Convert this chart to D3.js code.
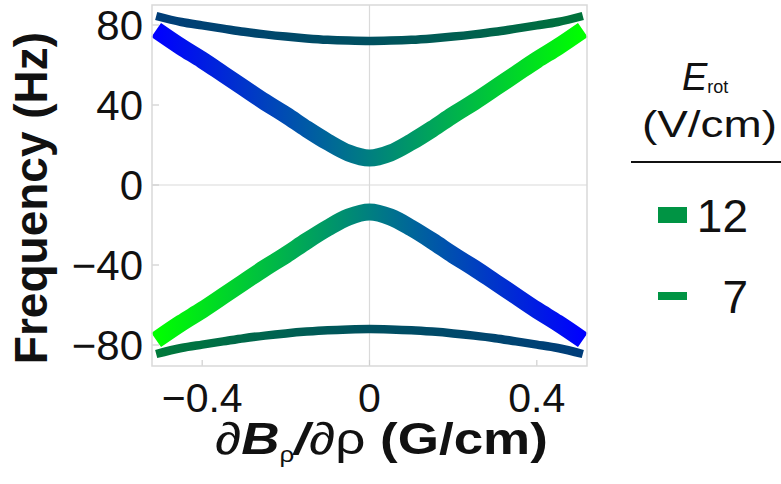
<!DOCTYPE html>
<html>
<head>
    <title>Frequency vs field gradient</title>
    <script src="https://cdnjs.cloudflare.com/ajax/libs/d3/7.8.5/d3.min.js"></script>
    <style>
        body { margin: 0; background: #fff; }
        text { font-family: "Liberation Sans", Arial, sans-serif; fill: #111; }
    </style>
</head>
<body>
    <div id="chart"></div>
    <script>
        // gradient values (G/cm) where the curves were read
        const gradX = [-0.51, -0.45, -0.4, -0.35, -0.3, -0.25, -0.2, -0.15, -0.1, -0.05, 0,
                       0.05, 0.1, 0.15, 0.2, 0.25, 0.3, 0.35, 0.4, 0.45, 0.51];
        // E_rot = 12 V/cm, upper and lower branch (Hz)
        const upper12 = [77.5, 69, 62.5, 55.5, 48.5, 41.5, 35, 28, 21.5, 16, 13.5,
                         16, 21.5, 28, 35, 41.5, 48.5, 55.5, 62.5, 69, 77.5];
        const lower12 = upper12.map(v => -v);
        // E_rot = 7 V/cm
        const upper7 = [84.5, 81.5, 79.8, 78.2, 76.6, 75.3, 74.2, 73.3, 72.6, 72.2, 72,
                        72.2, 72.6, 73.3, 74.2, 75.3, 76.6, 78.2, 79.8, 81.5, 84.5];
        const lower7 = upper7.map(v => -v);

        const xTicks = [-0.4, 0, 0.4];
        const yTicks = [-80, -40, 0, 40, 80];
        const legendLabels = ["12", "7"];

        const W = 781, H = 484;
        const plot = {left: 152, right: 587, top: 5, bottom: 366};

        const svg = d3.select("#chart").append("svg")
            .attr("width", W).attr("height", H);

        const x = d3.scaleLinear().domain([-0.52, 0.52]).range([plot.left, plot.right]);
        const y = d3.scaleLinear().domain([-90.5, 90]).range([plot.bottom, plot.top]);

        const fmt = v => v < 0 ? "\u2212" + Math.abs(v) : String(v);

        // stretch a text horizontally so it spans a given width (the figure is wide-scaled)
        function fitWidth(g, text, width) {
            const w = text.node().getBBox().width;
            g.attr("transform", g.attr("transform") + ` scale(${width / w},1)`);
        }

        // grid lines at zero
        svg.append("line")
            .attr("x1", x(0)).attr("x2", x(0)).attr("y1", plot.top).attr("y2", plot.bottom)
            .attr("stroke", "#dadada").attr("stroke-width", 1.2);
        svg.append("line")
            .attr("x1", plot.left).attr("x2", plot.right).attr("y1", y(0)).attr("y2", y(0))
            .attr("stroke", "#dadada").attr("stroke-width", 1.2);

        // inner ticks
        svg.selectAll(".ytick").data(yTicks).join("line")
            .attr("x1", plot.left).attr("x2", plot.left + 7)
            .attr("y1", d => y(d)).attr("y2", d => y(d))
            .attr("stroke", "#cfcfcf").attr("stroke-width", 1.2);
        svg.selectAll(".xtick").data(xTicks).join("line")
            .attr("x1", d => x(d)).attr("x2", d => x(d))
            .attr("y1", plot.bottom).attr("y2", plot.bottom - 6)
            .attr("stroke", "#cfcfcf").attr("stroke-width", 1.2);

        // gradients along x
        const defs = svg.append("defs");
        function grad(id, stops) {
            const g = defs.append("linearGradient").attr("id", id)
                .attr("gradientUnits", "userSpaceOnUse")
                .attr("x1", x(-0.51)).attr("x2", x(0.51)).attr("y1", 0).attr("y2", 0);
            stops.forEach((c, i) => g.append("stop")
                .attr("offset", i / (stops.length - 1)).attr("stop-color", c));
        }
        grad("gUp12", ["#0000ff", "#007f80", "#00ff00"]);
        grad("gLo12", ["#00ff00", "#007f80", "#0000ff"]);
        grad("gUp7", ["#003d78", "#005060", "#00733a"]);
        grad("gLo7", ["#007a3a", "#005060", "#003d7a"]);

        const line = d3.line()
            .x(d => x(d[0])).y(d => y(d[1]))
            .curve(d3.curveMonotoneX);

        const series = [
            {vals: upper7, id: "gUp7", w: 8.5},
            {vals: lower7, id: "gLo7", w: 8.5},
            {vals: upper12, id: "gUp12", w: 17},
            {vals: lower12, id: "gLo12", w: 17}
        ];
        series.forEach(s => {
            svg.append("path")
                .datum(gradX.map((g, i) => [g, s.vals[i]]))
                .attr("d", line)
                .attr("fill", "none")
                .attr("stroke", `url(#${s.id})`)
                .attr("stroke-width", s.w);
        });

        // frame
        svg.append("rect")
            .attr("x", plot.left).attr("y", plot.top)
            .attr("width", plot.right - plot.left).attr("height", plot.bottom - plot.top)
            .attr("fill", "none").attr("stroke", "#d9d9d9").attr("stroke-width", 1.5);

        // tick labels
        svg.selectAll(".ylab").data(yTicks).join("text")
            .attr("x", 143).attr("y", d => y(d) + 15)
            .attr("text-anchor", "end").attr("font-size", 42)
            .text(fmt);
        svg.selectAll(".xlab").data(xTicks).join("text")
            .attr("x", d => x(d)).attr("y", 412)
            .attr("text-anchor", "middle").attr("font-size", 41)
            .text(fmt);

        // axis titles
        svg.append("text")
            .attr("transform", "translate(47,198) rotate(-90)")
            .attr("text-anchor", "middle").attr("font-size", 46).attr("font-weight", "bold")
            .text("Frequency (Hz)");

        const xg = svg.append("g").attr("transform", "translate(215,454)");
        const xt = xg.append("text").attr("font-size", 45);
        xt.append("tspan").text("\u2202");
        xt.append("tspan").attr("font-weight", "bold").attr("font-style", "italic").text("B");
        xt.append("tspan").attr("font-size", 22).attr("dy", 8).text("\u03c1");
        xt.append("tspan").attr("font-weight", "bold").attr("font-style", "italic").attr("dy", -8).text("/");
        xt.append("tspan").text("\u2202\u03c1 ");
        xt.append("tspan").attr("font-weight", "bold").text("(G/cm)");
        fitWidth(xg, xt, 333);

        // legend
        const lt = svg.append("text").attr("x", 682).attr("y", 90).attr("font-size", 38);
        lt.append("tspan").attr("font-style", "italic").text("E");
        lt.append("tspan").attr("font-size", 18).attr("dy", 3).text("rot");

        const vg = svg.append("g").attr("transform", "translate(642,137)");
        const vt = vg.append("text").attr("font-size", 37).text("(V/cm)");
        fitWidth(vg, vt, 135);

        svg.append("line").attr("x1", 631).attr("x2", 781).attr("y1", 162).attr("y2", 162)
            .attr("stroke", "#111").attr("stroke-width", 2);

        const legY = [215, 296];
        const legH = [16, 8];
        legendLabels.forEach((lab, i) => {
            svg.append("rect").attr("x", 658).attr("y", legY[i] - legH[i] / 2)
                .attr("width", 29).attr("height", legH[i]).attr("fill", "#009444");
            svg.append("text").attr("x", 748).attr("y", legY[i] + 17)
                .attr("text-anchor", "end").attr("font-size", 46).text(lab);
        });
    </script>
</body>
</html>
